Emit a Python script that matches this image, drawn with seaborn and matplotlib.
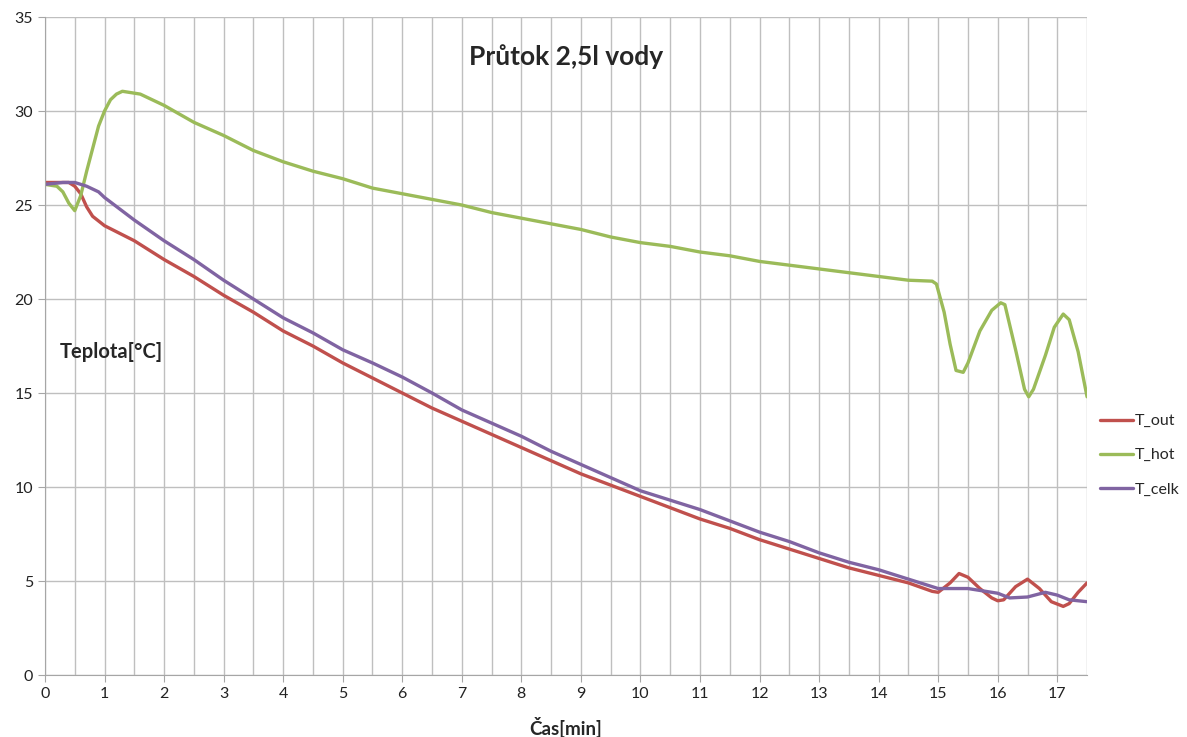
import numpy as np
import pandas as pd
import matplotlib
matplotlib.use("Agg")
import matplotlib.pyplot as plt
import seaborn as sns

# Data (time in minutes, temperature in °C)
t_out_x = [0, 0.2, 0.4, 0.5, 0.6, 0.7, 0.8, 1.0, 1.25, 1.5, 2.0, 2.5, 3.0, 3.5, 4.0,
           4.5, 5.0, 5.5, 6.0, 6.5, 7.0, 7.5, 8.0, 8.5, 9.0, 9.5, 10.0, 10.5, 11.0,
           11.5, 12.0, 12.5, 13.0, 13.5, 14.0, 14.5, 14.9, 15.0, 15.2, 15.35, 15.5,
           15.7, 15.9, 16.0, 16.1, 16.3, 16.5, 16.7, 16.9, 17.1, 17.2, 17.35, 17.5]
t_out_y = [26.2, 26.2, 26.2, 26.0, 25.6, 24.9, 24.4, 23.9, 23.5, 23.1, 22.1, 21.2, 20.2, 19.3, 18.3,
           17.5, 16.6, 15.8, 15.0, 14.2, 13.5, 12.8, 12.1, 11.4, 10.7, 10.1, 9.5, 8.9, 8.3,
           7.8, 7.2, 6.7, 6.2, 5.7, 5.3, 4.9, 4.45, 4.4, 4.9, 5.4, 5.2,
           4.6, 4.1, 3.95, 4.0, 4.7, 5.1, 4.6, 3.9, 3.65, 3.8, 4.4, 4.9]

t_hot_x = [0, 0.2, 0.3, 0.4, 0.5, 0.6, 0.7, 0.8, 0.9, 1.0, 1.1, 1.2, 1.3, 1.4, 1.6,
           1.8, 2.0, 2.5, 3.0, 3.5, 4.0, 4.5, 5.0, 5.5, 6.0, 6.5, 7.0, 7.5, 8.0,
           8.5, 9.0, 9.5, 10.0, 10.5, 11.0, 11.5, 12.0, 12.5, 13.0, 13.5, 14.0, 14.5,
           14.9, 14.97, 15.1, 15.2, 15.3, 15.42, 15.5, 15.7, 15.9, 16.05, 16.12, 16.3,
           16.45, 16.52, 16.6, 16.8, 16.95, 17.1, 17.2, 17.35, 17.5]
t_hot_y = [26.1, 26.0, 25.7, 25.1, 24.7, 25.5, 26.8, 28.0, 29.2, 30.0, 30.6, 30.9, 31.05, 31.0, 30.9,
           30.6, 30.3, 29.4, 28.7, 27.9, 27.3, 26.8, 26.4, 25.9, 25.6, 25.3, 25.0, 24.6, 24.3,
           24.0, 23.7, 23.3, 23.0, 22.8, 22.5, 22.3, 22.0, 21.8, 21.6, 21.4, 21.2, 21.0,
           20.95, 20.8, 19.3, 17.6, 16.2, 16.1, 16.6, 18.3, 19.4, 19.8, 19.7, 17.3,
           15.2, 14.8, 15.2, 17.0, 18.5, 19.2, 18.9, 17.2, 14.8]

t_celk_x = [0, 0.3, 0.5, 0.7, 0.9, 1.0, 1.5, 2.0, 2.5, 3.0, 3.5, 4.0, 4.5, 5.0, 5.5,
            6.0, 6.5, 7.0, 7.5, 8.0, 8.5, 9.0, 9.5, 10.0, 10.5, 11.0, 11.5, 12.0,
            12.5, 13.0, 13.5, 14.0, 14.5, 15.0, 15.5, 16.0, 16.2, 16.5, 16.8, 17.0,
            17.2, 17.5]
t_celk_y = [26.1, 26.2, 26.2, 26.0, 25.7, 25.4, 24.2, 23.1, 22.1, 21.0, 20.0, 19.0, 18.2, 17.3, 16.6,
            15.85, 15.0, 14.1, 13.4, 12.7, 11.9, 11.2, 10.5, 9.8, 9.3, 8.8, 8.2, 7.6,
            7.1, 6.5, 6.0, 5.6, 5.1, 4.6, 4.6, 4.35, 4.1, 4.15, 4.4, 4.25,
            4.0, 3.9]

series = ["T_out", "T_hot", "T_celk"]
colors = ["#c0504d", "#9bbb59", "#8064a2"]

df = pd.concat([
    pd.DataFrame({"cas": t_out_x, "teplota": t_out_y, "serie": "T_out"}),
    pd.DataFrame({"cas": t_hot_x, "teplota": t_hot_y, "serie": "T_hot"}),
    pd.DataFrame({"cas": t_celk_x, "teplota": t_celk_y, "serie": "T_celk"}),
])

sns.set_style("white")
plt.rcParams["font.family"] = ["Lato", "DejaVu Sans"]

fig = plt.figure(figsize=(11.87, 7.37), dpi=100)
ax = fig.add_axes([0.0379, 0.0841, 0.8779, 0.8928])

sns.lineplot(data=df, x="cas", y="teplota", hue="serie", hue_order=series,
             palette=colors, estimator=None, sort=True, linewidth=2.4, ax=ax)

# Axes and grid
ax.set_xlim(0, 17.5)
ax.set_ylim(0, 35)
ax.set_xticks(np.arange(0, 18, 1))
ax.set_xticks(np.arange(0.5, 17.6, 1), minor=True)
ax.set_yticks(np.arange(0, 36, 5))
ax.grid(True, which="both", color="#bfbfbf", linewidth=1)
ax.set_axisbelow(True)
for s in ["top", "right"]:
    ax.spines[s].set_visible(False)
for s in ["left", "bottom"]:
    ax.spines[s].set_color("#a6a6a6")
ax.tick_params(axis="both", which="major", direction="out", length=5, color="#a6a6a6",
               labelsize=11.5, labelcolor="#222222", left=True, bottom=True)
ax.tick_params(axis="x", which="minor", length=0)

ax.set_xlabel("Čas[min]", fontsize=13.5, fontweight="bold", labelpad=12)
ax.set_ylabel("")
ax.text(0.25, 17.2, "Teplota[°C]", fontsize=14.5, fontweight="bold", ha="left", va="center")
ax.set_title("Průtok 2,5l vody", fontsize=19, fontweight="bold", y=0.915)

handles, labels = ax.get_legend_handles_labels()
ax.legend(handles, labels, loc="center left", bbox_to_anchor=(1.012, 0.334), frameon=False,
          fontsize=11.5, handlelength=2.1, handletextpad=0.1, labelspacing=1.25,
          borderaxespad=0, borderpad=0)

fig.savefig("out.png", dpi=100)
